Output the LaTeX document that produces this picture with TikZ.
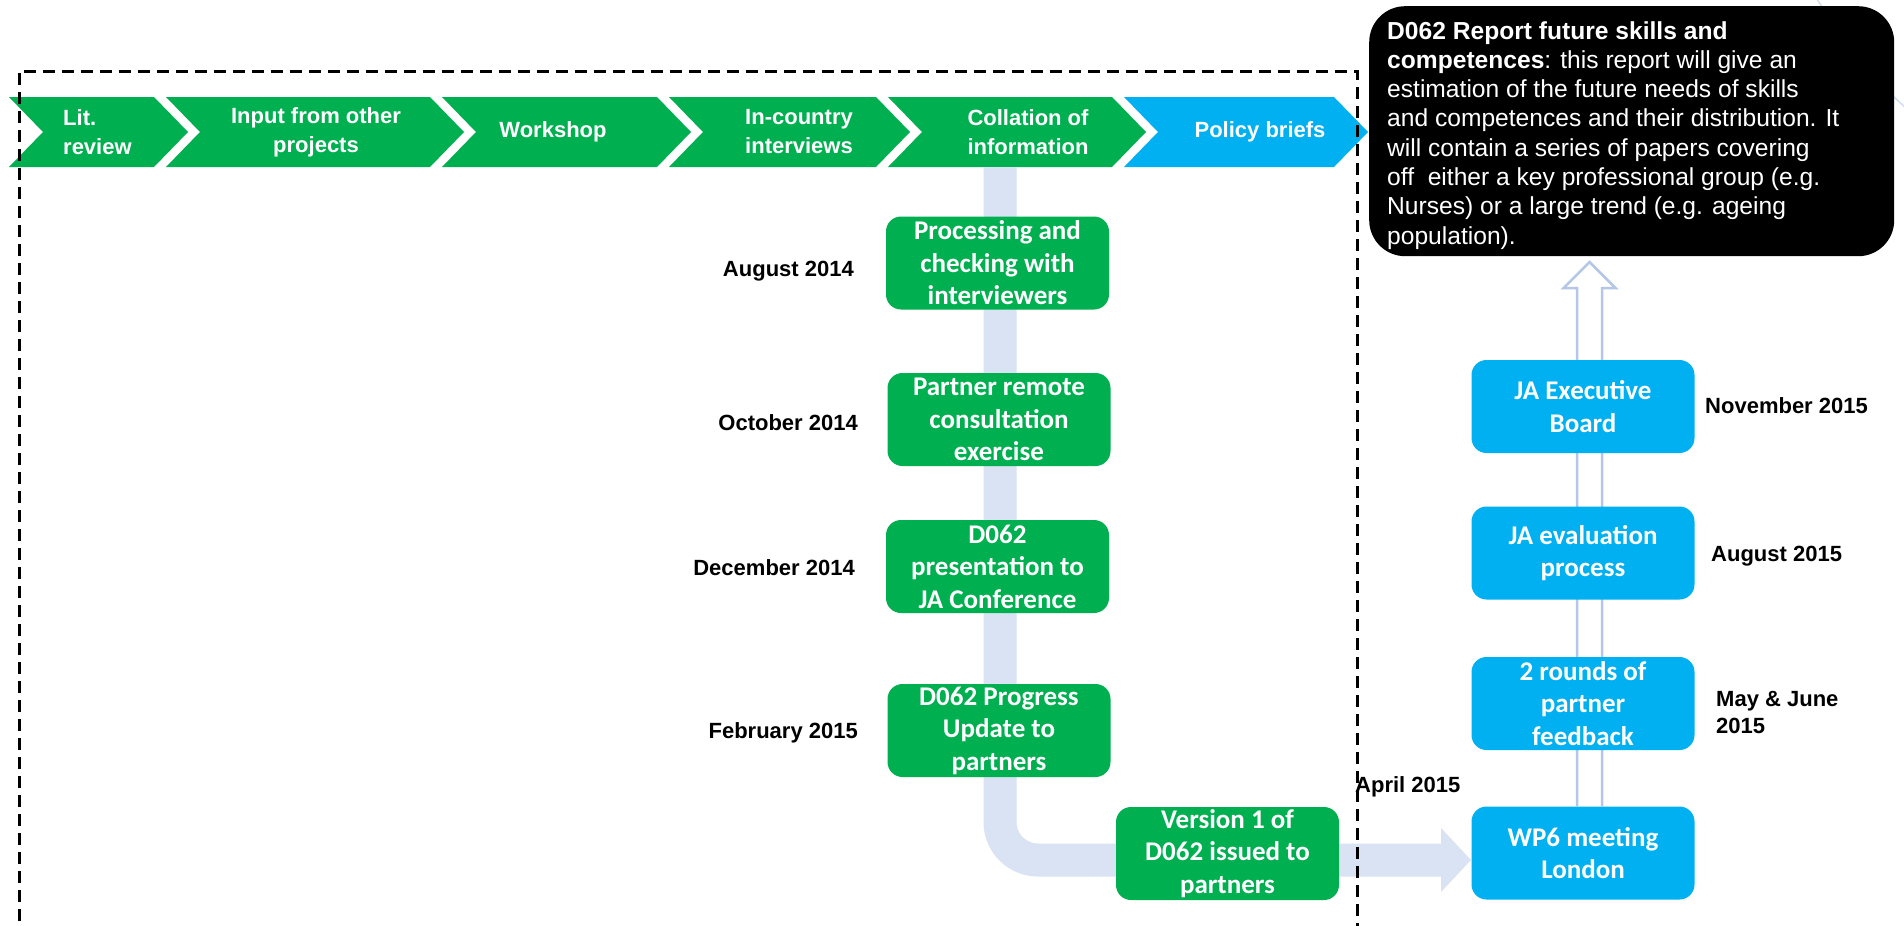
\documentclass[tikz,border=0pt]{standalone}
\usepackage{fontspec}
\setmainfont{Liberation Sans}
\newfontfamily\calibri{Carlito}
\definecolor{dgreen}{HTML}{00B050}
\definecolor{dblue}{HTML}{00B0F0}
\definecolor{palebar}{HTML}{DAE3F3}
\definecolor{arrowline}{HTML}{B4C7E7}
\newcommand\chevshape[3]{\fill[#3] (#1,97) -- (#2,97) -- ({#2+34},132) -- (#2,167) -- (#1,167) -- ({#1+34},132) -- cycle;}
\tikzset{
  gbox/.style={fill=dgreen, rounded corners=15pt, minimum width=223pt, minimum height=93pt,
    text=white, font=\calibri\bfseries\fontsize{27}{32.5}\selectfont, align=center, inner sep=0pt},
  bbox/.style={gbox, fill=dblue},
  datelbl/.style={font=\bfseries\fontsize{22}{27}\selectfont, inner sep=0pt},
  chevtext/.style={text=white, font=\bfseries\fontsize{22}{29}\selectfont, align=center, inner sep=0pt},
  dashframe/.style={draw=black, line width=3pt, dash pattern=on 12pt off 7pt},
  blackbox/.style={fill=black, rounded corners=36pt, minimum width=525pt, minimum height=250pt, inner sep=0pt},
  reptext/.style={text=white, font=\fontsize{24.6}{29.3}\selectfont, align=left, inner sep=0pt},
  hollow/.style={draw=arrowline, line width=2.5pt},
  palepath/.style={draw=palebar, line width=33pt, rounded corners=38pt},
}
\begin{document}
\begin{tikzpicture}[x=1pt,y=-1pt]
\clip (0,0) rectangle (1904,926);
\fill[white] (0,0) rectangle (1904,926);

% faint curve top right
\draw[palebar!80!arrowline, line width=1.5pt] (1816,-2) .. controls (1835,25) and (1868,75) .. (1906,108);

% chevrons
\chevshape{9}{154}{dgreen}
\chevshape{166}{430}{dgreen}
\chevshape{442}{657}{dgreen}
\chevshape{669}{876}{dgreen}
\chevshape{888}{1112}{dgreen}
\chevshape{1124}{1334}{dblue}
\node[chevtext, align=left, anchor=west] (c1) at (63,132) {Lit.\\review};
\node[chevtext] (c2) at (316,132) {Input from other\\projects};
\node[chevtext] (c3) at (553,132) {Workshop};
\node[chevtext] (c4) at (799,132) {In-country\\interviews};
\node[chevtext] (c5) at (1028,132) {Collation of\\information};
\node[chevtext] (c6) at (1260,132) {Policy briefs};
\coordinate (barTop) at (1000,167);
\coordinate (barEnd) at (1442,860);
\coordinate (wp6w) at (1471,853);
\coordinate (tip) at (wp6w |- barEnd);

% pale connector (drawn behind boxes)
\draw[palepath] (barTop) |- (barEnd);
\fill[palebar] (1441,828) -- (tip) -- (1441,892) -- cycle;

% hollow arrow up to the report box
\coordinate (wp6n) at (1589.5,806);
\coordinate (repS) at (1589.5,262);
\draw[hollow] ([xshift=-12.5pt]wp6n) -- ([xshift=-12.5pt]repS |- 0,288) -- ([xshift=-26pt]repS |- 0,288)
  -- (repS) -- ([xshift=26pt]repS |- 0,288) -- ([xshift=12.5pt]repS |- 0,288) -- ([xshift=12.5pt]wp6n);

% boxes
\node[gbox] (proc) at (997.5,263) {Processing and\\checking with\\interviewers};
\node[gbox] (part) at (999,419.5) {Partner remote\\consultation\\exercise};
\node[gbox] (pres) at (997.5,566.5) {D062\\presentation to\\JA Conference};
\node[gbox] (prog) at (999,730.5) {D062 Progress\\Update to\\partners};
\node[gbox] (ver) at (1227.5,853.5) {Version 1 of\\D062 issued to\\partners};

\node[bbox] (exec) at (1583,406.5) {JA Executive\\Board};
\node[bbox] (eval) at (1583,553) {JA evaluation\\process};
\node[bbox] (rounds) at (1583,703.5) {2 rounds of\\partner\\feedback};
\node[bbox] (wp6) at (1583,853) {WP6 meeting\\London};

\node[blackbox, anchor=north west] (rep) at (1369,6) {};
\node[reptext, anchor=north west] (reptx) at (1387,21) {\textbf{D062 Report future skills and}\\
\textbf{competences}: this report will give an\\
estimation of the future needs of skills\\
and competences and their distribution. It\\
will contain a series of papers covering\\
off\ \ either a key professional group (e.g.\\
Nurses) or a large trend (e.g. ageing\\
population).};

% dates
\node[datelbl, anchor=east] (d1) at (854,271) {August 2014};
\node[datelbl, anchor=east] (d2) at (858,423) {October 2014};
\node[datelbl, anchor=east] (d3) at (855,568) {December 2014};
\node[datelbl, anchor=east] (d4) at (858,733) {February 2015};
\node[datelbl, anchor=west] (d5) at (1705,406) {November 2015};
\node[datelbl, anchor=west] (d6) at (1711,556) {August 2015};
\node[datelbl, anchor=west, align=left] (d7) at (1716,712) {May \& June\\2015};
\node[datelbl, anchor=west] (d8) at (1355,787) {April 2015};

% dashed frame
\draw[dashframe] (19,940) |- (1357,71) -- (1357,940);
\end{tikzpicture}
\end{document}
